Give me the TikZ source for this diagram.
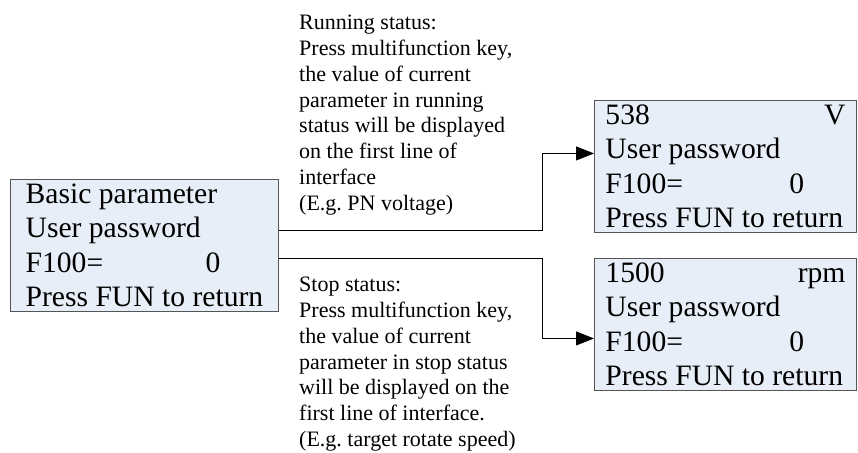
\documentclass[tikz,border=0pt]{standalone}
\usepackage{fontspec}
\setmainfont{Liberation Serif}
\usetikzlibrary{arrows.meta}
\definecolor{panelfill}{HTML}{E8EEF8}
\definecolor{panelline}{HTML}{555555}
\frenchspacing

\begin{document}
\begin{tikzpicture}[x=1pt, y=-1pt,
  panel/.style={draw=panelline, fill=panelfill, line width=0.9pt, anchor=north west,
    minimum width=262pt, inner xsep=11pt, inner ysep=0pt, minimum height=132pt, align=left,
    font=\fontsize{29.6}{34.5}\selectfont},
  note/.style={anchor=north west, inner sep=0pt, align=left, font=\fontsize{22}{25.8}\selectfont},
  conn/.style={line width=0.9pt, -{Triangle[length=18pt, width=14pt]}}]
\useasboundingbox (0,0) rectangle (858,452);
\node[panel, minimum width=268pt] (basic) at (10,179) {Basic parameter\\ User password\\ \makebox[180pt][l]{F100=}0\\ Press FUN to return};
\node[panel] (run) at (594,100) {\makebox[240pt]{538\hfill V}\\ User password\\ \makebox[184pt][l]{F100=}0\\ Press FUN to return};
\node[panel] (stop) at (594,258) {\makebox[240pt]{1500\hfill rpm}\\ User password\\ \makebox[184pt][l]{F100=}0\\ Press FUN to return};
\node[note] (runtext) at (299,15) {Running status:\\ Press multifunction key,\\ the value of current\\ parameter in running\\ status will be displayed\\ on the first line of\\ interface\\ (E.g. PN voltage)};
\node[note] (stoptext) at (299,277) {Stop status:\\ Press multifunction key,\\ the value of current\\ parameter in stop status\\ will be displayed on the\\ first line of interface.\\ (E.g. target rotate speed)};
\draw[conn] ([yshift=15pt]basic.east) -- ++(264,0) |- ([yshift=13pt]run.west);
\draw[conn] ([yshift=-13pt]basic.east) -- ++(264,0) |- ([yshift=-14pt]stop.west);
\end{tikzpicture}
\end{document}
